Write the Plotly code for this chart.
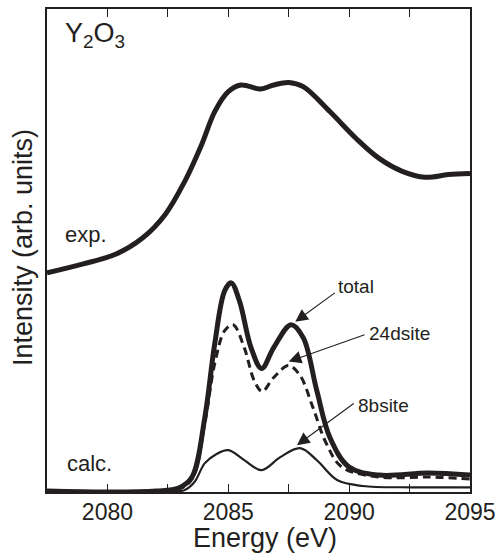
import plotly.graph_objects as go

# ---- data (energy in eV, intensity in arbitrary units) ----
exp_e = [2077.5, 2079.0, 2080.36, 2081.45, 2082.4, 2083.2, 2083.9, 2084.44, 2085.0, 2085.52,
         2086.34, 2086.88, 2087.5, 2088.1, 2089.2, 2090.29, 2091.24, 2092.2, 2093.14, 2094.1, 2095.0]
exp_i = [220, 229, 239, 255, 279, 312, 349, 382, 402, 408.7,
         404.7, 408.7, 411.3, 407, 382, 355, 335, 322, 316, 318.7, 319.7]

total_e = [2077.5, 2080.0, 2082.0, 2082.95, 2083.5, 2084.03, 2084.44, 2084.85, 2085.12, 2085.46,
           2085.94, 2086.38, 2086.88, 2087.6, 2088.1, 2088.66, 2089.2, 2090.0, 2091.24, 2093.28, 2095.0]
total_i = [1, 0, 1, 4, 15, 75, 149, 202, 210, 192,
           145, 124, 145, 168, 155, 102, 55, 25, 17, 19, 17]

d24_e = [2077.5, 2080.0, 2082.95, 2083.5, 2084.03, 2084.44, 2084.85, 2085.2, 2085.66, 2086.07,
         2086.4, 2086.88, 2087.5, 2087.97, 2088.5, 2089.05, 2089.7, 2091.24, 2093.3, 2095.0]
d24_i = [1, 0, 3, 13, 69, 129, 162, 168, 145, 112,
         101, 115, 127, 117, 85, 49, 25, 15, 15, 13]

b8_e = [2077.5, 2082.5, 2083.2, 2083.6, 2084.03, 2084.5, 2085.0, 2085.66, 2086.38, 2087.15,
        2087.97, 2088.66, 2089.5, 2090.56, 2092.6, 2095.0]
b8_i = [0.5, 0, 2, 10, 29, 38, 42, 32, 22, 35,
        44, 32, 12, 6, 4.7, 4.7]

x_tickvals = [2080, 2082.5, 2085, 2087.5, 2090, 2092.5, 2095]
x_ticktext = ["2080", "", "2085", "", "2090", "", "2095"]

INK = "#231f20"
FONT = "Liberation Sans, Arial, sans-serif"

fig = go.Figure()
fig.add_trace(go.Scatter(x=b8_e, y=b8_i, mode="lines", line=dict(color=INK, width=2.2, shape="spline"), showlegend=False))
fig.add_trace(go.Scatter(x=d24_e, y=d24_i, mode="lines", line=dict(color=INK, width=3, shape="spline", dash="8px,5px"), showlegend=False))
fig.add_trace(go.Scatter(x=total_e, y=total_i, mode="lines", line=dict(color=INK, width=5, shape="spline"), showlegend=False))
fig.add_trace(go.Scatter(x=exp_e, y=exp_i, mode="lines", line=dict(color=INK, width=5, shape="spline"), showlegend=False))

annots = []
# text labels
def label(text, x, y, size, xanchor="left", yanchor="middle"):
    annots.append(dict(text=text, x=x, y=y, xref="x", yref="y", showarrow=False,
                       xanchor=xanchor, yanchor=yanchor, font=dict(size=size, color=INK, family=FONT)))

label("Y<sub>2</sub>O<sub>3</sub>", 2078.17, 440, 27, yanchor="bottom")
label("exp.", 2078.17, 259, 22)
label("calc.", 2078.25, 29, 22)
label("total", 2089.45, 206, 19)
label("24dsite", 2090.72, 159, 19)
label("8bsite", 2090.27, 87, 19)

# arrows
def arrow(x_tail, y_tail, x_tip, y_tip):
    annots.append(dict(text="", x=x_tip, y=y_tip, ax=x_tail, ay=y_tail, xref="x", yref="y",
                       axref="x", ayref="y", showarrow=True, arrowhead=2, arrowsize=2.3,
                       arrowwidth=1.1, arrowcolor=INK))

arrow(2089.47, 201, 2087.77, 171)
arrow(2090.7, 158.5, 2087.5, 131)
arrow(2090.25, 90, 2087.84, 47)

# axis titles
annots.append(dict(text="Energy (eV)", x=0.5155, y=-0.096, xref="paper", yref="paper", yanchor="middle",
                   showarrow=False, font=dict(size=27, color=INK, family=FONT)))
annots.append(dict(text="Intensity (arb. units)", x=-0.057, y=0.507, xref="paper", yref="paper",
                   textangle=-90, xanchor="center", yanchor="middle",
                   showarrow=False, font=dict(size=27, color=INK, family=FONT)))

fig.update_layout(
    width=503, height=557,
    margin=dict(l=47, r=27, t=7, b=65),
    paper_bgcolor="white", plot_bgcolor="white",
    annotations=annots,
    xaxis=dict(range=[2077.5, 2095], tickvals=x_tickvals, ticktext=x_ticktext,
               ticks="inside", ticklen=8, tickwidth=1, tickcolor=INK,
               showline=True, linewidth=2, linecolor=INK, mirror="ticks",
               showgrid=False, zeroline=False, ticklabelstandoff=-2,
               tickfont=dict(size=23, color=INK, family=FONT)),
    yaxis=dict(range=[0, 485], showticklabels=False, ticks="",
               showline=True, linewidth=2, linecolor=INK, mirror=True,
               showgrid=False, zeroline=False),
)

fig.write_html("out.html")
